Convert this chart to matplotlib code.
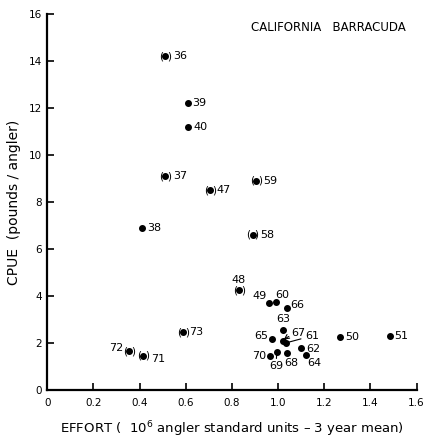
import matplotlib
matplotlib.use('Agg')
import matplotlib.pyplot as plt

# year labels, effort (10^6 angler units), CPUE (pounds/angler)
years = ['36', '37', '38', '39', '40', '47', '48', '49', '50', '51', '58', '59',
         '60', '61', '62', '63', '64', '65', '66', '67', '68', '69', '70', '71',
         '72', '73']
effort = [0.51, 0.51, 0.41, 0.61, 0.61, 0.705, 0.83, 0.96, 1.27, 1.485, 0.89, 0.905,
          0.99, 1.035, 1.10, 1.02, 1.12, 0.975, 1.04, 1.02, 1.04, 0.995, 0.965, 0.415,
          0.355, 0.59]
cpue = [14.2, 9.1, 6.9, 12.2, 11.2, 8.5, 4.25, 3.7, 2.25, 2.3, 6.6, 8.9,
        3.75, 2.0, 1.8, 2.55, 1.5, 2.15, 3.5, 2.1, 1.55, 1.6, 1.45, 1.45,
        1.65, 2.45]
in_parens = ['36', '37', '47', '48', '58', '59', '71', '72', '73']

# label placement in pixels relative to the dot: (dx, dy, ha, va)
label_pos = {
    '36': (8, 0, 'left', 'center'), '37': (8, 0, 'left', 'center'),
    '38': (5, 0, 'left', 'center'), '39': (4, 0, 'left', 'center'),
    '40': (5, 0, 'left', 'center'), '47': (7, 0, 'left', 'center'),
    '48': (0, 10, 'center', 'center'), '49': (-2, 7, 'right', 'center'),
    '50': (5, 0, 'left', 'center'), '51': (4, 0, 'left', 'center'),
    '58': (8, 0, 'left', 'center'), '59': (7, 0, 'left', 'center'),
    '60': (0, 7, 'left', 'center'), '61': (19, 7, 'left', 'center'),
    '62': (5, -1, 'left', 'center'), '63': (1, 11, 'center', 'center'),
    '64': (2, -8, 'left', 'center'), '65': (-4, 3, 'right', 'center'),
    '66': (3, 3, 'left', 'center'), '67': (9, 8, 'left', 'center'),
    '68': (4, -10, 'center', 'center'), '69': (-1, -14, 'center', 'center'),
    '70': (-4, 0, 'right', 'center'), '71': (8, -3, 'left', 'center'),
    '72': (-6, 3, 'right', 'center'), '73': (6, 0, 'left', 'center'),
}

fig = plt.figure(figsize=(4.25, 4.4), dpi=100)
ax = fig.add_axes([0.111, 0.114, 0.869, 0.854])

ax.scatter(effort, cpue, s=16, color='black', zorder=3)

fs = 8
for yr, x, y in zip(years, effort, cpue):
    dx, dy, ha, va = label_pos[yr]
    if yr == '67':
        ax.annotate(yr, xy=(x, y), xytext=(dx, dy), textcoords='offset pixels',
                    ha=ha, va=va, fontsize=fs,
                    arrowprops=dict(arrowstyle='->', lw=0.8, color='black',
                                    shrinkA=0, shrinkB=1,
                                    connectionstyle='arc3,rad=0.1'))
    elif yr == '61':
        ax.annotate(yr, xy=(x, y), xytext=(dx, dy), textcoords='offset pixels',
                    ha=ha, va=va, fontsize=fs,
                    arrowprops=dict(arrowstyle='-', lw=0.8, color='black',
                                    shrinkA=1, shrinkB=1))
    elif yr == '69':
        ax.annotate(yr, xy=(x, y), xytext=(dx, dy), textcoords='offset pixels',
                    ha=ha, va=va, fontsize=fs,
                    arrowprops=dict(arrowstyle='-', lw=0.8, color='black',
                                    shrinkA=5, shrinkB=0))
    else:
        ax.annotate(yr, xy=(x, y), xytext=(dx, dy), textcoords='offset pixels',
                    ha=ha, va=va, fontsize=fs)
    if yr in in_parens:
        ax.annotate('(', xy=(x, y), xytext=(-4, 0), textcoords='offset pixels',
                    ha='center', va='center', fontsize=7.5)
        ax.annotate(')', xy=(x, y), xytext=(4, 0), textcoords='offset pixels',
                    ha='center', va='center', fontsize=7.5)

ax.text(0.97, 0.965, 'CALIFORNIA   BARRACUDA', transform=ax.transAxes,
        fontsize=8.5, ha='right', va='center')

ax.set_xlim(0, 1.6)
ax.set_ylim(0, 16)
ax.set_xticks([0, 0.2, 0.4, 0.6, 0.8, 1.0, 1.2, 1.4, 1.6])
ax.set_xticklabels(['0', '0.2', '0.4', '0.6', '0.8', '1.0', '1.2', '1.4', '1.6'])
ax.set_yticks(range(0, 17, 2))

for side in ['top', 'right']:
    ax.spines[side].set_visible(False)
for side in ['left', 'bottom']:
    ax.spines[side].set_linewidth(1.6)
ax.tick_params(direction='in', length=5, width=1.2, labelsize=7.5)
ax.tick_params(axis='x', pad=6)

ax.set_ylabel('CPUE  (pounds / angler)', fontsize=10, labelpad=6)
ax.set_xlabel('EFFORT (  10$^6$ angler standard units \u2013 3 year mean)',
              fontsize=9.5, labelpad=8)

fig.savefig('out.png', dpi=100)
